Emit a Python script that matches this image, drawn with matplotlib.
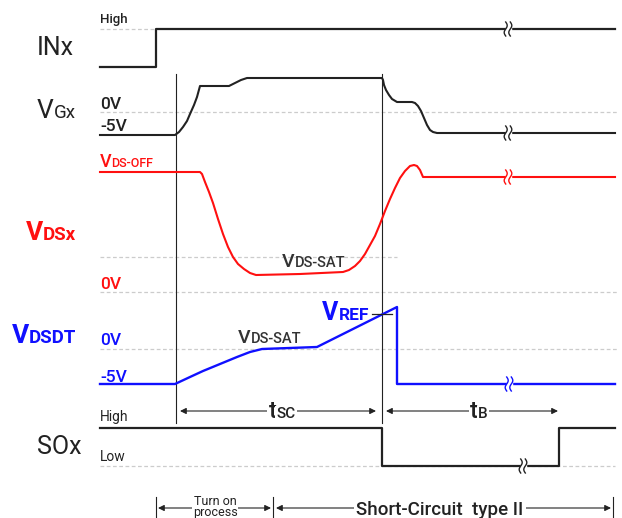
import numpy as np
import matplotlib
matplotlib.use("Agg")
import matplotlib.pyplot as plt
from matplotlib.patches import Rectangle

# waveforms (x, y in picture pixels, y grows downward)
inx_x = [100, 155.5, 155.5, 615]
inx_y = [67, 67, 29, 29]

vgx_x = [100, 175, 179, 183, 187, 190, 194, 197, 200, 229, 233, 237, 241, 247, 382,
         383, 384, 386, 389, 392, 397, 412, 415, 418, 421, 424, 427, 430, 433, 437, 615]
vgx_y = [135, 135, 132, 127, 121, 114, 105, 97, 86, 86, 84, 82, 80, 78, 78,
         80, 85, 90, 95, 99, 102, 102, 103, 106, 111, 118, 125, 130, 132, 133, 133]

vds_x = [100, 200, 202, 205, 209, 213, 218, 223, 228, 233, 238, 244, 250, 256, 300, 343,
         349, 355, 360, 365, 370, 375, 380, 385, 390, 395, 400, 405, 410, 414, 417, 420, 423, 615]
vds_y = [172, 172, 174, 182, 192, 203, 219, 234, 247, 257, 264, 269, 273, 275, 274, 272,
         270, 266, 261, 254, 245, 236, 224, 211, 199, 188, 178, 171, 166, 165, 166, 170, 177, 177]

vdt_x = [100, 175, 190, 203, 220, 237, 250, 262, 317, 397, 397, 615]
vdt_y = [384, 384, 377, 371, 364, 357, 352, 349, 347, 307, 384, 384]

sox_x = [100, 382, 382, 559, 559, 615]
sox_y = [428, 428, 466, 466, 428, 428]

# dashed reference levels: (y, x_start, x_end)
guides = [(29, 100, 155), (112, 100, 618), (257, 100, 397),
          (292, 100, 618), (349, 100, 618), (466, 100, 615)]

# "≀≀" break marks: (x, y, colour)
breaks = [(508, 29, "#222222"), (508, 133, "#222222"), (508, 177, "#ff1010"),
          (509, 384, "#1010ff"), (523, 466, "#222222")]

BLACK = "#222222"
RED = "#ff1010"
BLUE = "#1010ff"
MAIN = ["Roboto", "DejaVu Sans"]

fig = plt.figure(figsize=(6.22, 5.18), dpi=100)
ax = fig.add_axes([0, 0, 1, 1])
ax.set_xlim(0, 622)
ax.set_ylim(518, 0)
ax.axis("off")

for y, x0, x1 in guides:
    ax.plot([x0, x1], [y, y], color="#cccccc", lw=0.9, ls=(0, (3, 2)), zorder=1)

# time markers
ax.plot([175.5, 175.5], [74, 423], color=BLACK, lw=0.8, zorder=2)
ax.plot([382.3, 382.3], [74, 423], color=BLACK, lw=0.8, zorder=2)

ax.plot(inx_x, inx_y, color=BLACK, lw=1.6, zorder=3)
ax.plot(vgx_x, vgx_y, color=BLACK, lw=1.5, zorder=3)
ax.plot(vds_x, vds_y, color=RED, lw=1.5, zorder=3)
ax.plot(vdt_x, vdt_y, color=BLUE, lw=1.7, zorder=3)
ax.plot(sox_x, sox_y, color=BLACK, lw=1.6, zorder=3)
ax.plot([372, 392], [314, 314], color=BLACK, lw=0.9, zorder=4)

for bx, by, c in breaks:
    ax.add_patch(Rectangle((bx - 2.5, by - 2.5), 5, 5, color="white", zorder=4))
    t = np.linspace(-1, 1, 30)
    for dx in (-2.3, 2.3):
        ax.plot(bx + dx - 1.5 * np.sin(np.pi * t), by + 7 * t, color=c, lw=1.0, zorder=5)

renderer = fig.canvas.get_renderer()


def combo(x, y, big, small, bs, ss, color, ha="left", weight="medium"):
    t1 = ax.text(x, y, big, fontsize=bs, color=color, va="baseline", ha="left",
                 family=MAIN, fontweight=weight, zorder=6)
    w1 = t1.get_window_extent(renderer).width
    t2 = ax.text(x + w1, y, small, fontsize=ss, color=color, va="baseline", ha="left",
                 family=MAIN, fontweight=weight, zorder=6)
    w2 = t2.get_window_extent(renderer).width
    if ha == "right":
        t1.set_x(x - w1 - w2)
        t2.set_x(x - w2)
    elif ha == "center":
        t1.set_x(x - (w1 + w2) / 2)
        t2.set_x(x - (w1 + w2) / 2 + w1)
    return t1, t2


def label(x, y, s, size, color=BLACK, weight="medium"):
    return ax.text(x, y, s, fontsize=size, color=color, family=MAIN,
                   fontweight=weight, va="baseline", zorder=6)


# channel names
label(37, 55, "INx", 18, weight="normal")
combo(37, 118, "V", "Gx", 19, 13.5, BLACK, weight="normal")
combo(26, 240, "V", "DSx", 19, 13.5, RED, weight="semibold")
combo(12, 343, "V", "DSDT", 19, 13.5, BLUE, weight="semibold")
label(37, 454, "SOx", 18, weight="normal")

# level labels
label(100, 23, "High", 9.5)
label(100, 109, "0V", 12.5)
label(100, 131, "-5V", 12.5)
combo(100, 167, "V", "DS-OFF", 13, 9, RED)
label(100, 289, "0V", 12.5, RED)
combo(282, 267, "V", "DS-SAT", 14, 10.5, "#333333")
label(100, 345, "0V", 12.5, BLUE)
label(100, 382, "-5V", 12.5, BLUE)
combo(238, 343, "V", "DS-SAT", 14, 10.5, "#333333")
combo(369, 320, "V", "REF", 18, 12.5, BLUE, ha="right", weight="bold")
label(100, 421, "High", 10, weight="normal")
label(100, 461, "Low", 10, weight="normal")

# time spans
arrow = dict(arrowstyle="<|-|>", mutation_scale=9, lw=0.8, color=BLACK,
             shrinkA=0, shrinkB=0)
ax.annotate("", xy=(180, 411), xytext=(376, 411), arrowprops=arrow, zorder=3)
ax.annotate("", xy=(386, 411), xytext=(558, 411), arrowprops=arrow, zorder=3)
for t in combo(282, 418, "t", "SC", 17, 11, BLACK, ha="center"):
    t.set_bbox(dict(facecolor="white", edgecolor="none", pad=1.0))
for t in combo(479, 418, "t", "B", 17, 11, BLACK, ha="center"):
    t.set_bbox(dict(facecolor="white", edgecolor="none", pad=1.0))

# phases
for xv in (156, 273, 613):
    ax.plot([xv, xv], [497, 517], color=BLACK, lw=0.8)
ax.annotate("", xy=(158, 508), xytext=(271, 508), arrowprops=arrow)
ax.annotate("", xy=(276, 508), xytext=(611, 508), arrowprops=arrow)
ax.text(215, 507, "Turn on\nprocess", fontsize=9, color=BLACK, family=MAIN,
        ha="center", va="center", linespacing=0.8,
        bbox=dict(facecolor="white", edgecolor="none", pad=0.5))
ax.text(440, 510, "Short-Circuit  type II", fontsize=13.5, color=BLACK, family=MAIN,
        fontweight="medium", ha="center", va="center",
        bbox=dict(facecolor="white", edgecolor="none", pad=2))

fig.savefig("out.png", dpi=100)
